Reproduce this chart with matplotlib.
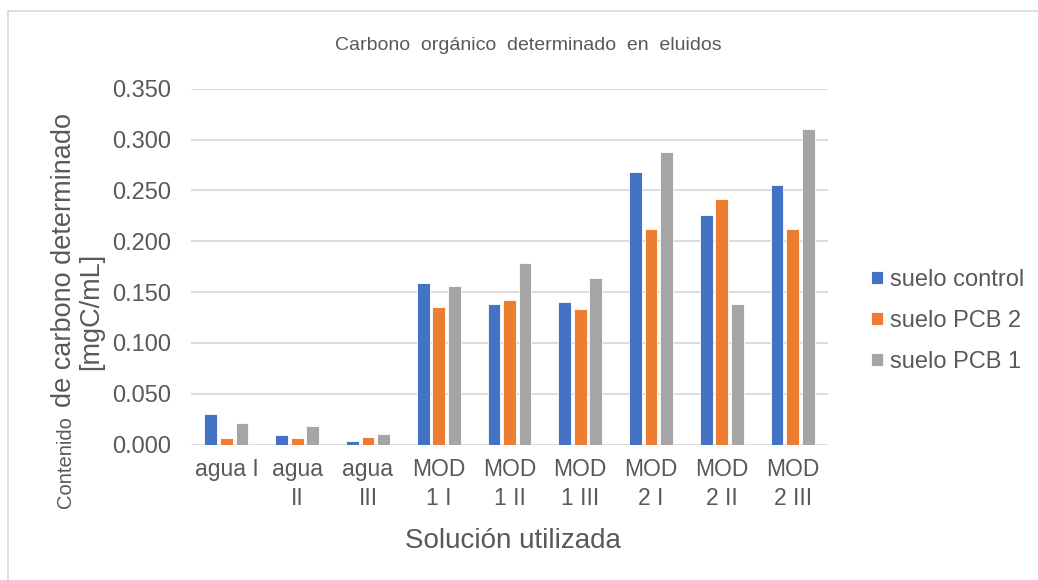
import numpy as np
import matplotlib
matplotlib.use('Agg')
import matplotlib.pyplot as plt
from matplotlib.patches import Rectangle

plt.rcParams['font.family'] = ['Liberation Sans', 'DejaVu Sans']

categorias = ['agua I', 'agua\nII', 'agua\nIII', 'MOD\n1 I', 'MOD\n1 II', 'MOD\n1 III',
              'MOD\n2 I', 'MOD\n2 II', 'MOD\n2 III']
series = ['suelo control', 'suelo PCB 2', 'suelo PCB 1']
control = [0.030, 0.009, 0.003, 0.159, 0.138, 0.140, 0.268, 0.226, 0.255]
pcb2 = [0.006, 0.006, 0.007, 0.135, 0.142, 0.133, 0.212, 0.242, 0.212]
pcb1 = [0.021, 0.018, 0.010, 0.156, 0.179, 0.164, 0.288, 0.138, 0.310]
colores = ['#4472C4', '#ED7D31', '#A5A5A5']
gris = '#595959'

fig = plt.figure(figsize=(10.38, 5.8), dpi=100)
ax = fig.add_axes([191/1038, 0.2336, 637/1038, 0.6134])

# marco del grafico
fig.patches.append(Rectangle((8/1038, -0.05), 1.1, (580-11)/580 + 0.05,
                             transform=fig.transFigure, fill=False,
                             edgecolor='#D9D9D9', lw=1.2))

x = np.arange(len(categorias))
w = 0.18
paso = 0.22
for i, (vals, nom) in enumerate(zip([control, pcb2, pcb1], series)):
    ax.bar(x + (i - 1) * paso, vals, w, color=colores[i], label=nom,
           edgecolor='white', linewidth=0.6, zorder=3)

ax.set_xlim(-0.5, len(categorias) - 0.5)
ax.set_ylim(0, 0.35)
yt = np.arange(0, 0.351, 0.05)
ax.set_yticks(yt)
ax.set_yticklabels(['%.3f' % v for v in yt])
ax.set_xticks(x)
ax.set_xticklabels(categorias, linespacing=1.3)
ax.tick_params(axis='both', length=0, labelcolor=gris)
ax.tick_params(axis='y', pad=14, labelsize=17)
ax.tick_params(axis='x', pad=10, labelsize=16.5)
ax.grid(axis='y', color='#D9D9D9', lw=1.3, zorder=0)
for s in ax.spines.values():
    s.set_visible(False)

fig.text(513/1038, 1 - 541/580, 'Solución utilizada', ha='center', va='center',
         fontsize=20, color=gris)

fig.text(528/1038, 1 - 45/580, 'Carbono  orgánico  determinado  en  eluidos',
         ha='center', va='center', fontsize=14, color=gris)

# etiqueta del eje y con dos tamaños
fig.text(71/1038, 1 - 462/580, 'Contenido', rotation=90, rotation_mode='anchor',
         ha='center', va='baseline', fontsize=14.5, color=gris)
fig.text(71/1038, 1 - 260/580, 'de carbono determinado', rotation=90,
         rotation_mode='anchor', ha='center', va='baseline', fontsize=19.5, color=gris)
fig.text(98/1038, 1 - 311/580, '[mgC/mL]', rotation=90, rotation_mode='anchor',
         ha='center', va='baseline', fontsize=19.5, color=gris)

ax.legend(loc='center left', bbox_to_anchor=(862/1038, 1 - 321/580),
          bbox_transform=fig.transFigure, frameon=False, fontsize=17,
          handlelength=0.5, handleheight=0.5, handletextpad=0.3,
          labelspacing=0.8, labelcolor=gris, borderaxespad=0)

fig.savefig('out.png', dpi=100)
